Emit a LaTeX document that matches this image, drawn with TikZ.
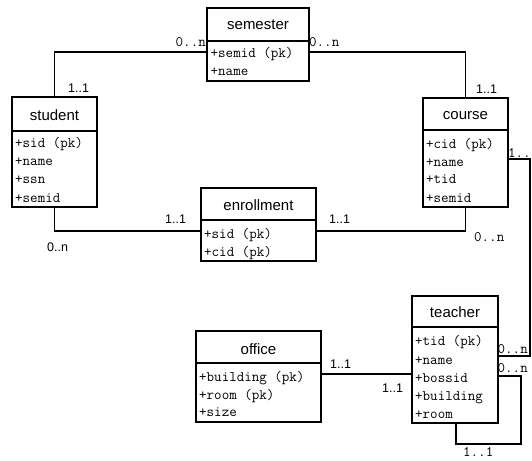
\documentclass[tikz,border=0pt]{standalone}
\usepackage{fontspec}
\setmainfont{Liberation Sans}
\begin{document}
\begin{tikzpicture}[x=1pt,y=-1pt,
  cls/.style={draw, line width=1.5pt, inner sep=0pt},
  divider/.style={line width=1.5pt},
  ttl/.style={font=\fontsize{15}{15}\selectfont, inner sep=0pt},
  attr/.style={font=\ttfamily\fontsize{14.6}{14.6}\selectfont, anchor=base west, inner sep=0pt},
  ml/.style={font=\ttfamily\fontsize{14.6}{14.6}\selectfont, inner sep=0pt},
  sl/.style={font=\fontsize{12.5}{12.5}\selectfont, inner sep=0pt, anchor=base west},
  conn/.style={line width=1.5pt}]
\fill[white] (0,0) rectangle (532,460);
\useasboundingbox (0,0) rectangle (532,460);

% semester
\node[cls, minimum width=102pt, minimum height=73pt] (semester) at (258,44.5) {};
\draw[divider] (semester.west |- 0,41) -- (semester.east |- 0,41);
\node[ttl] (semesterT) at (258,25) {semester};
\node[attr] (semA1) at (210.5,57) {+semid (pk)};
\node[attr] (semA2) at (210.5,75) {+name};

% student
\node[cls, minimum width=85pt, minimum height=110pt] (student) at (54.5,152) {};
\draw[divider] (student.west |- 0,131) -- (student.east |- 0,131);
\node[ttl] (studentT) at (54.5,115) {student};
\node[attr] (stuA1) at (15,147) {+sid (pk)};
\node[attr] (stuA2) at (15,165.5) {+name};
\node[attr] (stuA3) at (15,183.5) {+ssn};
\node[attr] (stuA4) at (15,202) {+semid};

% course
\node[cls, minimum width=85pt, minimum height=109pt] (course) at (465.5,152.5) {};
\draw[divider] (course.west |- 0,130) -- (course.east |- 0,130);
\node[ttl] (courseT) at (465.5,116) {course};
\node[attr] (couA1) at (426,148) {+cid (pk)};
\node[attr] (couA2) at (426,166) {+name};
\node[attr] (couA3) at (426,183.5) {+tid};
\node[attr] (couA4) at (426,202) {+semid};

% enrollment
\node[cls, minimum width=115pt, minimum height=73pt] (enrollment) at (258.5,224.5) {};
\draw[divider] (enrollment.west |- 0,220) -- (enrollment.east |- 0,220);
\node[ttl] (enrollmentT) at (258.5,205) {enrollment};
\node[attr] (enrA1) at (204,238) {+sid (pk)};
\node[attr] (enrA2) at (204,256) {+cid (pk)};

% teacher
\node[cls, minimum width=86pt, minimum height=127pt] (teacher) at (455,359.5) {};
\draw[divider] (teacher.west |- 0,327) -- (teacher.east |- 0,327);
\node[ttl] (teacherT) at (455,312) {teacher};
\node[attr] (teaA1) at (415,345) {+tid (pk)};
\node[attr] (teaA2) at (415,364) {+name};
\node[attr] (teaA3) at (415,382) {+bossid};
\node[attr] (teaA4) at (415,400) {+building};
\node[attr] (teaA5) at (415,418) {+room};

% office
\node[cls, minimum width=125pt, minimum height=91pt] (office) at (258.5,376.5) {};
\draw[divider] (office.west |- 0,363) -- (office.east |- 0,363);
\node[ttl] (officeT) at (258.5,349) {office};
\node[attr] (offA1) at (199,381) {+building (pk)};
\node[attr] (offA2) at (199,399) {+room (pk)};
\node[attr] (offA3) at (199,416.5) {+size};

% connectors
\coordinate (ctTurn) at (530,159);
\coordinate (lpA) at (521,376);
\coordinate (lpB) at (456,444);
\draw[conn] (semester.west |- 0,52) -| (student.north);
\draw[conn] (semester.east |- 0,52) -| (course.north);
\draw[conn] (student.south) |- (enrollment.west |- 0,231);
\draw[conn] (enrollment.east |- 0,231) -| (course.south);
\draw[conn] (course.east |- ctTurn) -- (ctTurn) |- (teacher.east |- 0,356);
\draw[conn] (teacher.east |- lpA) -- (lpA) |- (lpB) -- (lpB |- teacher.south);
\draw[conn] (office.east |- 0,374) -- (teacher.west |- 0,374);

% multiplicities
\node[ml, anchor=base east] (m1) at (206,47) {0..n};
\node[sl] (m2) at (68,92) {1..1};
\node[ml, anchor=base west] (m3) at (309,47) {0..n};
\node[sl] (m4) at (476,93) {1..1};
\node[ml, anchor=base west] (m5) at (508,157) {1..};
\node[sl] (m6) at (165,223) {1..1};
\node[sl] (m7) at (47,251) {0..n};
\node[sl] (m8) at (329,223) {1..1};
\node[ml, anchor=base west] (m9) at (474,241) {0..n};
\node[ml, anchor=base west] (m10) at (497.5,353) {0..n};
\node[ml, anchor=base west] (m11) at (497.5,372) {0..n};
\node[ml, anchor=base west] (m12) at (463,456) {1..1};
\node[sl] (m13) at (330,368) {1..1};
\node[sl] (m14) at (382,392) {1..1};
\end{tikzpicture}
\end{document}
